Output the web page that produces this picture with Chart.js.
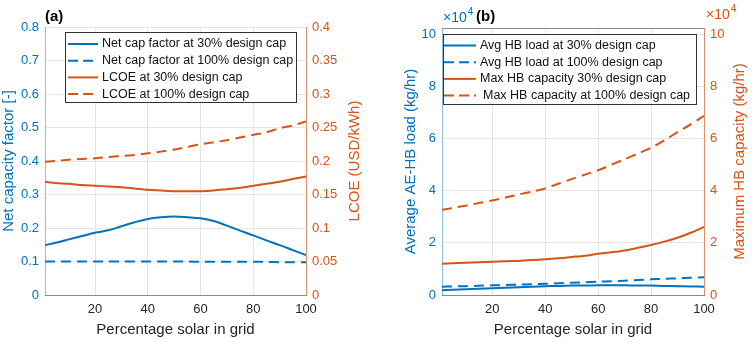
<!DOCTYPE html>
<html><head><meta charset="utf-8">
<script src="https://cdn.jsdelivr.net/npm/chart.js@4/dist/chart.umd.min.js"></script>
<style>
html,body{margin:0;padding:0;background:#fff;}
#wrap{position:relative;width:752px;height:342px;overflow:hidden;}
canvas{position:absolute;top:0;}
</style></head><body>
<div id="wrap">
<canvas id="ca" width="376" height="342" style="left:0"></canvas>
<canvas id="cb" width="376" height="342" style="left:376px"></canvas>
</div>
<script>
// ---------- data ----------
const solarPct = [1,5,10,15,20,25,30,35,40,45,50,55,60,65,70,75,80,85,90,95,100];
const xTicks = [20,40,60,80,100];

// panel (a)
const netCapFactor30  = [0.149,0.156,0.166,0.176,0.186,0.193,0.205,0.217,0.227,0.232,0.234,0.232,0.229,0.221,0.207,0.192,0.178,0.163,0.149,0.134,0.119];
const netCapFactor100 = [0.100,0.100,0.100,0.100,0.100,0.100,0.100,0.100,0.100,0.100,0.100,0.100,0.099,0.099,0.099,0.099,0.099,0.099,0.098,0.098,0.098];
const lcoe30  = [0.169,0.167,0.166,0.164,0.163,0.162,0.161,0.159,0.157,0.156,0.155,0.155,0.155,0.156,0.158,0.160,0.163,0.166,0.169,0.173,0.177];
const lcoe100 = [0.199,0.200,0.202,0.203,0.204,0.206,0.2075,0.209,0.2115,0.214,0.217,0.221,0.225,0.228,0.231,0.235,0.239,0.243,0.249,0.253,0.259];
const capFactorTicks = [0,0.1,0.2,0.3,0.4,0.5,0.6,0.7,0.8];
const lcoeTicks = [0,0.05,0.1,0.15,0.2,0.25,0.3,0.35,0.4];

// panel (b)  (kg/hr)
const avgHbLoad30  = [1800,2000,2200,2400,2600,2800,3000,3200,3400,3500,3600,3650,3700,3700,3700,3650,3600,3500,3400,3300,3200];
const avgHbLoad100 = [3200,3300,3400,3550,3700,3850,4000,4150,4300,4500,4700,4900,5100,5300,5500,5750,6000,6200,6400,6600,6800];
const maxHbCap30   = [12000,12200,12400,12600,12800,13000,13100,13400,13700,14100,14600,15100,15800,16400,17100,18100,19200,20500,22000,23900,26100];
const maxHbCap100  = [32700,33400,34300,35300,36300,37400,38600,39700,40900,42700,44500,46200,47900,50000,52100,54300,56500,59400,62500,65500,68800];
const hbTicks = [0,20000,40000,60000,80000,100000];

// ---------- styling ----------
const BLUE = '#0072BD', ORANGE = '#D95319';
const FONT = '"Liberation Sans", Arial, Helvetica, sans-serif';
const pts = arr => arr.map((v,i)=>({x:solarPct[i], y:v}));

const deco = {
  id:'deco',
  afterDraw(chart, args, o){
    const ctx = chart.ctx, a = chart.chartArea;
    ctx.save();
    if (o.topBorder){
      ctx.strokeStyle = '#8a8a8a'; ctx.lineWidth = 1;
      ctx.beginPath(); ctx.moveTo(a.left, Math.round(a.top)+0.5); ctx.lineTo(a.right, Math.round(a.top)+0.5); ctx.stroke();
    }
    ctx.textBaseline = 'middle'; ctx.textAlign = 'left';
    ctx.fillStyle = '#000';
    ctx.font = 'bold 15px ' + FONT;
    ctx.fillText(o.label, o.labelX, o.labelY);
    (o.exps||[]).forEach(e=>{
      ctx.fillStyle = e.color;
      ctx.font = '14px ' + FONT;
      ctx.fillText('\u00d710', e.x, e.y);
      const w = ctx.measureText('\u00d710').width;
      ctx.font = '10px ' + FONT;
      ctx.fillText('4', e.x + w + 1, e.y - 6);
    });
    // right axis title, reading bottom-to-top
    if (o.rightTitle){
      const t = o.rightTitle;
      ctx.save();
      ctx.translate(t.x, (a.top + a.bottom)/2);
      ctx.rotate(-Math.PI/2);
      ctx.textAlign = 'center'; ctx.textBaseline = 'middle';
      ctx.fillStyle = t.color; ctx.font = '15px ' + FONT;
      ctx.fillText(t.text, 0, 0);
      ctx.restore();
    }
    const L = o.legend;
    ctx.fillStyle = '#fff'; ctx.fillRect(L.x, L.y, L.w, L.h);
    ctx.strokeStyle = '#333'; ctx.lineWidth = 1;
    ctx.strokeRect(L.x+0.5, L.y+0.5, L.w, L.h);
    ctx.textAlign = 'left'; ctx.textBaseline = 'middle';
    chart.data.datasets.forEach((ds,i)=>{
      const y = L.y + L.first + i*L.step;
      ctx.strokeStyle = ds.borderColor; ctx.lineWidth = 2;
      ctx.setLineDash(ds.borderDash ? [10,5] : []);
      ctx.beginPath(); ctx.moveTo(L.x+L.l1, y); ctx.lineTo(L.x+L.l2, y); ctx.stroke();
      ctx.setLineDash([]);
      ctx.fillStyle = '#111'; ctx.font = '12.5px ' + FONT;
      ctx.fillText(ds.label, L.x + L.tx + (L.extra && L.extra[i] || 0), y);
    });
    ctx.restore();
  }
};

function fixed(vals){ return s => { s.ticks = vals.map(v=>({value:v})); }; }
function fmt(v){ return String(+(+v).toFixed(3)); }

function xScale(){
  return {
    type:'linear', min:1, max:100,
    afterBuildTicks: fixed(xTicks),
    afterFit: s => { s.height = 47; },
    grid:{color:'#e6e6e6', drawTicks:false},
    border:{color:'#8a8a8a', width:1},
    ticks:{font:{family:FONT,size:13}, color:'#262626', padding:7, maxRotation:0},
    title:{display:true, text:'Percentage solar in grid', font:{family:FONT,size:15}, color:'#262626', padding:{top:0,bottom:3}}
  };
}
function yScale(pos, width, min, max, ticks, color, borderColor, title, tpad, grid, cb){
  return {
    type:'linear', position:pos, min:min, max:max,
    afterBuildTicks: fixed(ticks),
    afterFit: s => { s.width = width; },
    grid: grid ? {color:'#e6e6e6', drawTicks:false} : {display:false, drawTicks:false},
    border:{color:borderColor, width:1},
    ticks:{font:{family:FONT,size:13}, color:color, padding:6, callback:cb},
    title:{display:!!title, text:title||'', font:{family:FONT,size:15}, color:color, padding:{top:tpad,bottom:0}}
  };
}
function line(label, data, color, dashed, axis){
  return {label, data:pts(data), borderColor:color, backgroundColor:color, borderWidth:2,
    borderDash: dashed ? [10,6] : undefined, pointRadius:0, tension:0.3, yAxisID:axis, fill:false};
}
const common = {
  responsive:false, animation:false, devicePixelRatio:1,
  plugins:{legend:{display:false}, tooltip:{enabled:false}}
};

new Chart(document.getElementById('ca'), {
  type:'line',
  data:{datasets:[
    line('Net cap factor at 30% design cap', netCapFactor30, BLUE, false, 'y'),
    line('Net cap factor at 100% design cap', netCapFactor100, BLUE, true, 'y'),
    line('LCOE at 30% design cap', lcoe30, ORANGE, false, 'y1'),
    line('LCOE at 100% design cap', lcoe100, ORANGE, true, 'y1')
  ]},
  options:Object.assign({}, common, {
    layout:{padding:{top:27,left:0,right:0,bottom:0}},
    scales:{
      x:xScale(),
      y:yScale('left',45,0,0.8,capFactorTicks,BLUE,'rgba(0,114,189,0.45)','Net capacity factor [-]',0,true,v=>fmt(v)),
      y1:yScale('right',70,0,0.4,lcoeTicks,ORANGE,'rgba(217,83,25,0.6)',null,0,false,v=>fmt(v))
    },
    plugins:Object.assign({}, common.plugins, {deco:{
      label:'(a)', labelX:45, labelY:17, topBorder:false,
      rightTitle:{text:'LCOE (USD/kWh)', x:355, color:ORANGE},
      legend:{x:65, y:32, w:231, h:70, first:12, step:16.7, l1:3, l2:33, tx:37}
    }})
  }),
  plugins:[deco]
});

new Chart(document.getElementById('cb'), {
  type:'line',
  data:{datasets:[
    line('Avg HB load at 30% design cap', avgHbLoad30, BLUE, false, 'y'),
    line('Avg HB load at 100% design cap', avgHbLoad100, BLUE, true, 'y'),
    line('Max HB capacity 30% design cap', maxHbCap30, ORANGE, false, 'y1'),
    line('Max HB capacity at 100% design cap', maxHbCap100, ORANGE, true, 'y1')
  ]},
  options:Object.assign({}, common, {
    layout:{padding:{top:28,left:0,right:0,bottom:0}},
    scales:{
      x:xScale(),
      y:yScale('left',66,0,102500,hbTicks,BLUE,'rgba(0,114,189,0.45)','Average AE-HB load (kg/hr)',26,true,v=>fmt(v/10000)),
      y1:yScale('right',48,0,102500,hbTicks,ORANGE,'rgba(217,83,25,0.6)',null,0,false,v=>fmt(v/10000))
    },
    plugins:Object.assign({}, common.plugins, {deco:{
      label:'(b)', labelX:100, labelY:17, topBorder:true,
      rightTitle:{text:'Maximum HB capacity (kg/hr)', x:364, color:ORANGE},
      exps:[{x:67, y:18, color:BLUE},{x:330, y:15, color:ORANGE}],
      legend:{x:67, y:34, w:253, h:70, first:11.5, step:16.7, l1:1, l2:33, tx:37, extra:[0,0,0,3]}
    }})
  }),
  plugins:[deco]
});
</script>
</body></html>
